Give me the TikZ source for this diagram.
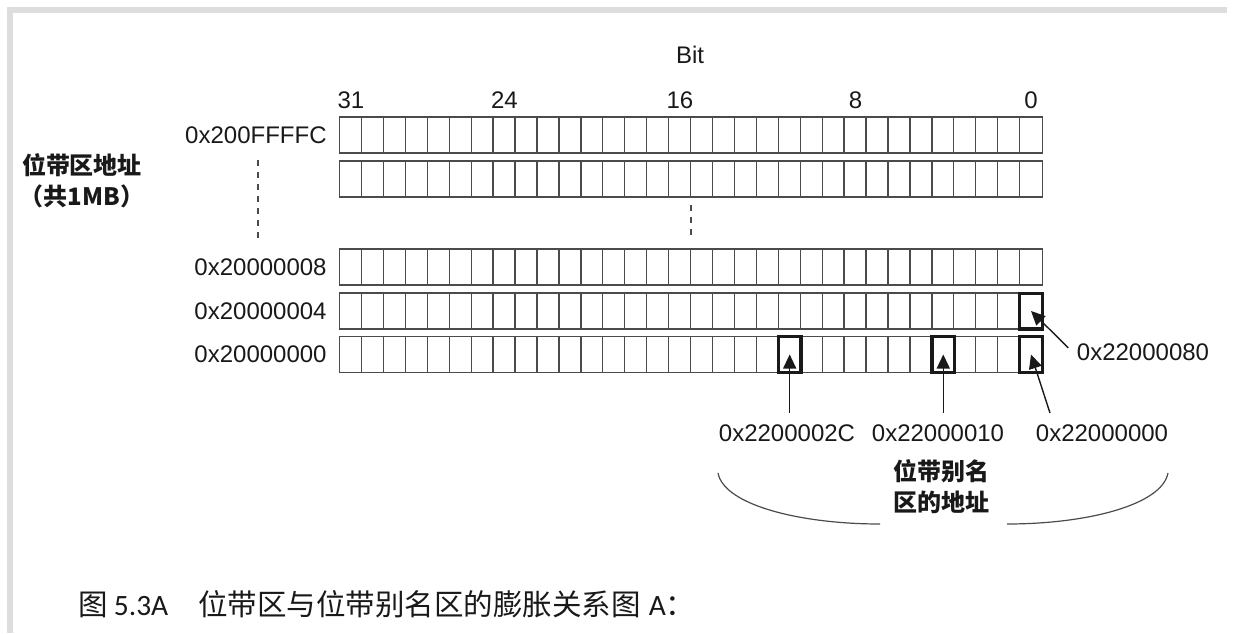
\documentclass[tikz,border=0pt]{standalone}
\usepackage{fontspec}
\setmainfont{Liberation Sans}
\newfontfamily\cjk{Noto Sans CJK SC}
\newfontfamily\capfont{Carlito}
\usetikzlibrary{arrows.meta}
\definecolor{framegray}{RGB}{221,221,221}
\definecolor{gridgray}{RGB}{75,75,75}
\definecolor{inkblack}{RGB}{25,25,25}
\tikzstyle{cell} = [rectangle, minimum width=10.97pt, minimum height=17.5pt, inner sep=0pt]
\tikzstyle{gridline} = [draw=gridgray, line width=0.65pt]
\tikzstyle{hlbox} = [draw=inkblack, line width=1.6pt]
\tikzstyle{addr} = [font=\fontsize{12}{14}\selectfont, text=inkblack, anchor=east, inner sep=2pt]
\tikzstyle{alias} = [font=\fontsize{12}{14}\selectfont, text=inkblack, inner sep=2pt]
\tikzstyle{ptr} = [-{Triangle[length=7pt, width=6.5pt]}, line width=0.7pt, inkblack]
\tikzstyle{ellip} = [dashed, line width=0.6pt, gridgray]

\begin{document}
\begin{tikzpicture}[x=0.5pt, y=-0.5pt]
\useasboundingbox (0,0) rectangle (1233,633);

% Frame
\draw[framegray, line width=3pt] (7,10) -- (1227,10);
\draw[framegray, line width=3pt] (10,7) -- (10,633);

% Bit numbers
\node[alias] (bit) at (690,55) {Bit};
\foreach \b in {31,24,16,8,0}
  \node[alias] (n\b) at ({1031.03-\b*21.94},100) {\b};

% Word rows
\foreach \r/\y in {1/135,2/179,3/267,4/311,5/354.5} {
  \foreach \b in {0,...,31}
    \node[cell] (c\r-\b) at ({1031.03-\b*21.94},\y) {};
  \draw[gridline] (c\r-31.north west) rectangle (c\r-0.south east);
  \foreach \b in {0,...,30}
    \draw[gridline] (c\r-\b.north west) -- (c\r-\b.south west);
}

% Addresses
\node[addr] (a1) at (331,135) {0x200FFFFC};
\node[addr] (a3) at (331,267) {0x20000008};
\node[addr] (a4) at (331,311) {0x20000004};
\node[addr] (a5) at (331,354.5) {0x20000000};

\node[font=\cjk\bfseries\fontsize{12}{14}\selectfont, text=inkblack] (bbtitle) at (82,165) {位带区地址};
\node[font=\cjk\bfseries\fontsize{12}{14}\selectfont, text=inkblack] (bbsize) at (82,196) {（共1MB）};

% Dots between rows
\draw[ellip] (258,160) -- (258,240);
\draw[ellip] (691,205) -- (691,238);

% Marked bits
\draw[hlbox] (c4-0.south west) rectangle (c4-0.north east);
\draw[hlbox] (c5-0.south west) rectangle (c5-0.north east);
\draw[hlbox] (c5-4.south west) rectangle (c5-4.north east);
\draw[hlbox] (c5-11.south west) rectangle (c5-11.north east);

% Alias addresses
\node[alias] (l2C) at (787,433) {0x2200002C};
\node[alias] (l10) at (938,433) {0x22000010};
\node[alias] (l00) at (1102,433) {0x22000000};
\node[alias] (l80) at (1143,352) {0x22000080};
\coordinate (s00) at (1050,413);

\draw[ptr, shorten <=3.5pt] (l2C.north -| c5-11) -- (c5-11.center);
\draw[ptr, shorten <=3.5pt] (l10.north -| c5-4) -- (c5-4.center);
\draw[ptr] (s00) -- (c5-0.center);
\draw[ptr, shorten <=3pt] (l80.west) -- (c4-0.center);

% Alias region brace
\node[font=\cjk\bfseries\fontsize{12}{15.5}\selectfont, text=inkblack, align=center] (bbalias) at (941,487)
  {位带别名\\区的地址};
\draw[gridgray, line width=0.6pt] (718,473) .. controls (724,505) and (800,524) .. (880,524);
\draw[gridgray, line width=0.6pt] (1007,524) .. controls (1087,524) and (1162,505) .. (1168,473);

% Caption
\node[anchor=west, inner sep=0pt, font=\fontsize{14.75}{16}\selectfont, text=inkblack] (cap) at (78,604)
  {{\cjk 图}\hspace{3pt}{\capfont 5.3A}\hspace{15pt}{\cjk 位带区与位带别名区的膨胀关系图}\hspace{4pt}{\capfont A}{\cjk ：}};

\end{tikzpicture}
\end{document}
